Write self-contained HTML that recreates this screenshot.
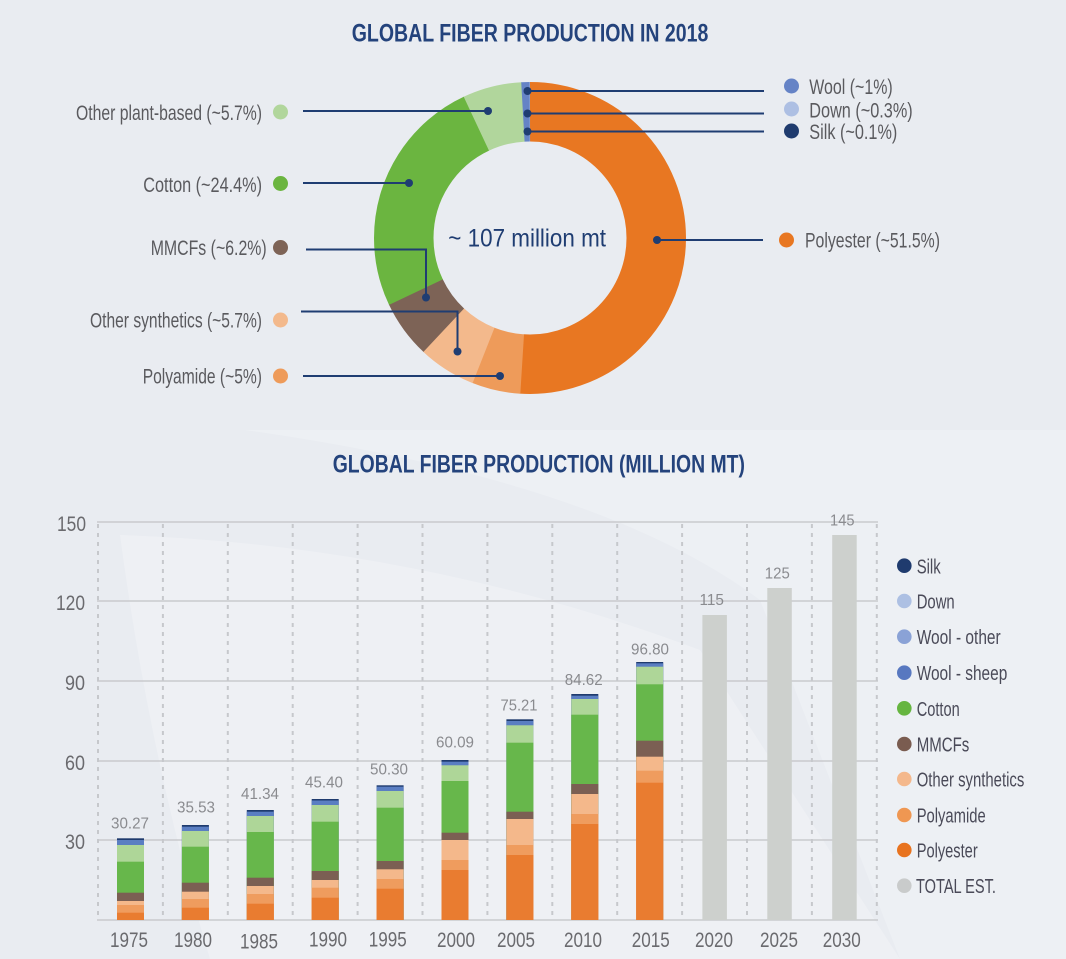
<!DOCTYPE html>
<html>
<head>
<meta charset="utf-8">
<style>
html,body{margin:0;padding:0;background:#e9ecf1;}
svg{display:block;}
text{font-family:"Liberation Sans Narrow","Liberation Sans",sans-serif;}
</style>
</head>
<body>
<svg width="1066" height="959" viewBox="0 0 1066 959" xmlns="http://www.w3.org/2000/svg">
<rect x="0" y="0" width="1066" height="959" fill="#e9ecf1"/>
<!-- subtle background shapes -->
<path d="M245,430 L1066,430 L1066,959 L900,959 L760,600 Q600,480 245,430 Z" fill="#edf0f4"/>
<path d="M120,535 Q420,545 700,650 L900,959 L210,959 Q150,760 120,535 Z" fill="#eef0f4"/>

<!-- Title 1 -->
<text x="351.7" y="41.7" font-size="25" font-weight="bold" fill="#24437c" textLength="356.7" lengthAdjust="spacingAndGlyphs">GLOBAL FIBER PRODUCTION IN 2018</text>

<!-- Donut -->
<g transform="rotate(-90 530 238)" fill="none" stroke-width="59.5">
<circle cx="530" cy="238" r="126.25" stroke="#e87722" stroke-dasharray="404.8 793.25" stroke-dashoffset="0"/>
<circle cx="530" cy="238" r="126.25" stroke="#ee9b5a" stroke-dasharray="40.1 793.25" stroke-dashoffset="-404.34"/>
<circle cx="530" cy="238" r="126.25" stroke="#f3b98c" stroke-dasharray="47.8 793.25" stroke-dashoffset="-444.0"/>
<circle cx="530" cy="238" r="126.25" stroke="#7d6356" stroke-dasharray="47.8 793.25" stroke-dashoffset="-491.38"/>
<circle cx="530" cy="238" r="126.25" stroke="#6bb540" stroke-dasharray="199.2 793.25" stroke-dashoffset="-538.76"/>
<circle cx="530" cy="238" r="126.25" stroke="#b1d69c" stroke-dasharray="48.7 793.25" stroke-dashoffset="-737.51"/>
<circle cx="530" cy="238" r="126.25" stroke="#6583c6" stroke-dasharray="6.8 793.25" stroke-dashoffset="-785.77"/>
<circle cx="530" cy="238" r="126.25" stroke="#8ea6d8" stroke-dasharray="0.9 793.25" stroke-dashoffset="-792.15"/>
<circle cx="530" cy="238" r="126.25" stroke="#3f5e9e" stroke-dasharray="0.5 793.25" stroke-dashoffset="-792.8"/>
</g>
<text x="448.3" y="246.7" font-size="25" fill="#1f3d72" textLength="157.7" lengthAdjust="spacingAndGlyphs">~ 107 million mt</text>

<!-- leader lines -->
<g stroke="#1f3d72" stroke-width="2" fill="none">
<path d="M303 111 H488"/>
<path d="M303 183 H409"/>
<path d="M306 249.5 H426 V297.5"/>
<path d="M301 311.5 H457.5 V351.5"/>
<path d="M303 376 H500"/>
<path d="M527.5 91 H764"/>
<path d="M527.5 113.5 H764"/>
<path d="M527.5 131.5 H764"/>
<path d="M657 240 H763"/>
</g>
<g fill="#1f3d72">
<circle cx="488" cy="111" r="4"/>
<circle cx="409" cy="183" r="4"/>
<circle cx="426" cy="297.5" r="4"/>
<circle cx="457.5" cy="351.5" r="4"/>
<circle cx="500" cy="376" r="4"/>
<circle cx="527.5" cy="91" r="4"/>
<circle cx="527.5" cy="113.5" r="4"/>
<circle cx="527.5" cy="131.5" r="4"/>
<circle cx="657" cy="240" r="4"/>
</g>

<!-- donut labels left -->
<circle cx="280.5" cy="112" r="7.5" fill="#b1d69c"/>
<circle cx="280.5" cy="183.5" r="7.5" fill="#6bb540"/>
<circle cx="280.5" cy="247.5" r="7.5" fill="#7d6356"/>
<circle cx="280.5" cy="320" r="7.5" fill="#f3b98c"/>
<circle cx="280.5" cy="376" r="7.5" fill="#ee9b5a"/>
<g font-size="21" fill="#5a5a5e">
<text x="76" y="120" textLength="186" lengthAdjust="spacingAndGlyphs">Other plant-based (~5.7%)</text>
<text x="143.3" y="192" textLength="118.7" lengthAdjust="spacingAndGlyphs">Cotton (~24.4%)</text>
<text x="150.7" y="255" textLength="116" lengthAdjust="spacingAndGlyphs">MMCFs (~6.2%)</text>
<text x="90" y="327.3" textLength="172" lengthAdjust="spacingAndGlyphs">Other synthetics (~5.7%)</text>
<text x="142.7" y="383.5" textLength="119.3" lengthAdjust="spacingAndGlyphs">Polyamide (~5%)</text>
<text x="809.3" y="94" textLength="83.4" lengthAdjust="spacingAndGlyphs">Wool (~1%)</text>
<text x="809.3" y="117.3" textLength="103.4" lengthAdjust="spacingAndGlyphs">Down (~0.3%)</text>
<text x="809.3" y="139" textLength="88" lengthAdjust="spacingAndGlyphs">Silk (~0.1%)</text>
<text x="805" y="247.3" textLength="135" lengthAdjust="spacingAndGlyphs">Polyester (~51.5%)</text>
</g>
<!-- donut labels right dots -->
<circle cx="791.5" cy="86" r="7.5" fill="#6583c6"/>
<circle cx="791.5" cy="109" r="7.5" fill="#adbfe3"/>
<circle cx="791.5" cy="131" r="7.5" fill="#1f3b6e"/>
<circle cx="786.5" cy="240" r="7.5" fill="#e87722"/>

<!-- Title 2 -->
<text x="332.7" y="472.3" font-size="25" font-weight="bold" fill="#24437c" textLength="412.3" lengthAdjust="spacingAndGlyphs">GLOBAL FIBER PRODUCTION (MILLION MT)</text>

<!-- grid -->
<g stroke="#c9cacd" stroke-width="1.6">
<line x1="97" y1="522" x2="878" y2="522"/>
<line x1="97" y1="601" x2="878" y2="601"/>
<line x1="97" y1="681" x2="878" y2="681"/>
<line x1="97" y1="761" x2="878" y2="761"/>
<line x1="97" y1="840" x2="878" y2="840"/>
<line x1="97" y1="920" x2="878" y2="920"/>
</g>
<g stroke="#c6c8cc" stroke-width="2" stroke-dasharray="4 5">
<line x1="98" y1="524" x2="98" y2="920"/>
<line x1="162.9" y1="524" x2="162.9" y2="920"/>
<line x1="227.8" y1="524" x2="227.8" y2="920"/>
<line x1="292.7" y1="524" x2="292.7" y2="920"/>
<line x1="357.6" y1="524" x2="357.6" y2="920"/>
<line x1="422.5" y1="524" x2="422.5" y2="920"/>
<line x1="487.4" y1="524" x2="487.4" y2="920"/>
<line x1="552.3" y1="524" x2="552.3" y2="920"/>
<line x1="617.2" y1="524" x2="617.2" y2="920"/>
<line x1="682.1" y1="524" x2="682.1" y2="920"/>
<line x1="747" y1="524" x2="747" y2="920"/>
<line x1="811.9" y1="524" x2="811.9" y2="920"/>
<line x1="876.8" y1="524" x2="876.8" y2="920"/>
</g>

<!-- y labels -->
<g font-size="21" fill="#6a6a6e" text-anchor="end">
<text x="86" y="531" textLength="29" lengthAdjust="spacingAndGlyphs">150</text>
<text x="85" y="610" textLength="29" lengthAdjust="spacingAndGlyphs">120</text>
<text x="85" y="690" textLength="20" lengthAdjust="spacingAndGlyphs">90</text>
<text x="85" y="770" textLength="20" lengthAdjust="spacingAndGlyphs">60</text>
<text x="85" y="849" textLength="20" lengthAdjust="spacingAndGlyphs">30</text>
</g>

<!-- stacked bars: silk, wool, plant, cotton, mmcf, othersyn, polyamide, polyester -->
<g>
<!-- 1975 -->
<rect x="117" y="838.3" width="27" height="81.7" fill="#1f3b6e"/>
<rect x="117" y="840" width="27" height="80" fill="#5a7ec2"/>
<rect x="117" y="845" width="27" height="75" fill="#aed698"/>
<rect x="117" y="861.7" width="27" height="58.3" fill="#67b74b"/>
<rect x="117" y="892.7" width="27" height="27.3" fill="#7b5f53"/>
<rect x="117" y="901" width="27" height="19" fill="#f4b88b"/>
<rect x="117" y="905" width="27" height="15" fill="#ef9c5e"/>
<rect x="117" y="912.7" width="27" height="7.3" fill="#e97c30"/>
<!-- 1980 -->
<rect x="181.9" y="825" width="27" height="95" fill="#1f3b6e"/>
<rect x="181.9" y="826.7" width="27" height="93.3" fill="#5a7ec2"/>
<rect x="181.9" y="831" width="27" height="89" fill="#aed698"/>
<rect x="181.9" y="846.7" width="27" height="73.3" fill="#67b74b"/>
<rect x="181.9" y="882.7" width="27" height="37.3" fill="#7b5f53"/>
<rect x="181.9" y="891.7" width="27" height="28.3" fill="#f4b88b"/>
<rect x="181.9" y="899" width="27" height="21" fill="#ef9c5e"/>
<rect x="181.9" y="907.7" width="27" height="12.3" fill="#e97c30"/>
<!-- 1985 -->
<rect x="246.8" y="810" width="27" height="110" fill="#1f3b6e"/>
<rect x="246.8" y="811.7" width="27" height="108.3" fill="#5a7ec2"/>
<rect x="246.8" y="816" width="27" height="104" fill="#aed698"/>
<rect x="246.8" y="832" width="27" height="88" fill="#67b74b"/>
<rect x="246.8" y="877.7" width="27" height="42.3" fill="#7b5f53"/>
<rect x="246.8" y="886" width="27" height="34" fill="#f4b88b"/>
<rect x="246.8" y="894" width="27" height="26" fill="#ef9c5e"/>
<rect x="246.8" y="903.7" width="27" height="16.3" fill="#e97c30"/>
<!-- 1990 -->
<rect x="311.7" y="799" width="27" height="121" fill="#1f3b6e"/>
<rect x="311.7" y="800.5" width="27" height="119.5" fill="#5a7ec2"/>
<rect x="311.7" y="805" width="27" height="115" fill="#aed698"/>
<rect x="311.7" y="821.7" width="27" height="98.3" fill="#67b74b"/>
<rect x="311.7" y="871" width="27" height="49" fill="#7b5f53"/>
<rect x="311.7" y="880" width="27" height="40" fill="#f4b88b"/>
<rect x="311.7" y="887.7" width="27" height="32.3" fill="#ef9c5e"/>
<rect x="311.7" y="897.7" width="27" height="22.3" fill="#e97c30"/>
<!-- 1995 -->
<rect x="376.6" y="785.3" width="27" height="134.7" fill="#1f3b6e"/>
<rect x="376.6" y="786.7" width="27" height="133.3" fill="#5a7ec2"/>
<rect x="376.6" y="791" width="27" height="129" fill="#aed698"/>
<rect x="376.6" y="807.7" width="27" height="112.3" fill="#67b74b"/>
<rect x="376.6" y="861" width="27" height="59" fill="#7b5f53"/>
<rect x="376.6" y="869.3" width="27" height="50.7" fill="#f4b88b"/>
<rect x="376.6" y="879" width="27" height="41" fill="#ef9c5e"/>
<rect x="376.6" y="888.7" width="27" height="31.3" fill="#e97c30"/>
<!-- 2000 -->
<rect x="441.5" y="760" width="27" height="160" fill="#1f3b6e"/>
<rect x="441.5" y="761.7" width="27" height="158.3" fill="#5a7ec2"/>
<rect x="441.5" y="765.3" width="27" height="154.7" fill="#aed698"/>
<rect x="441.5" y="781" width="27" height="139" fill="#67b74b"/>
<rect x="441.5" y="832.7" width="27" height="87.3" fill="#7b5f53"/>
<rect x="441.5" y="840" width="27" height="80" fill="#f4b88b"/>
<rect x="441.5" y="860" width="27" height="60" fill="#ef9c5e"/>
<rect x="441.5" y="870" width="27" height="50" fill="#e97c30"/>
<!-- 2005 -->
<rect x="506.4" y="719.3" width="27" height="200.7" fill="#1f3b6e"/>
<rect x="506.4" y="721" width="27" height="199" fill="#5a7ec2"/>
<rect x="506.4" y="725.3" width="27" height="194.7" fill="#aed698"/>
<rect x="506.4" y="742.7" width="27" height="177.3" fill="#67b74b"/>
<rect x="506.4" y="811.7" width="27" height="108.3" fill="#7b5f53"/>
<rect x="506.4" y="819" width="27" height="101" fill="#f4b88b"/>
<rect x="506.4" y="845" width="27" height="75" fill="#ef9c5e"/>
<rect x="506.4" y="855" width="27" height="65" fill="#e97c30"/>
<!-- 2010 -->
<rect x="571.3" y="694" width="27" height="226" fill="#1f3b6e"/>
<rect x="571.3" y="695.7" width="27" height="224.3" fill="#5a7ec2"/>
<rect x="571.3" y="699" width="27" height="221" fill="#aed698"/>
<rect x="571.3" y="714.7" width="27" height="205.3" fill="#67b74b"/>
<rect x="571.3" y="784" width="27" height="136" fill="#7b5f53"/>
<rect x="571.3" y="794" width="27" height="126" fill="#f4b88b"/>
<rect x="571.3" y="814" width="27" height="106" fill="#ef9c5e"/>
<rect x="571.3" y="824" width="27" height="96" fill="#e97c30"/>
<!-- 2015 -->
<rect x="636.2" y="662" width="27" height="258" fill="#1f3b6e"/>
<rect x="636.2" y="663.3" width="27" height="256.7" fill="#5a7ec2"/>
<rect x="636.2" y="666.7" width="27" height="253.3" fill="#aed698"/>
<rect x="636.2" y="684.3" width="27" height="235.7" fill="#67b74b"/>
<rect x="636.2" y="740.7" width="27" height="179.3" fill="#7b5f53"/>
<rect x="636.2" y="756.7" width="27" height="163.3" fill="#f4b88b"/>
<rect x="636.2" y="770.7" width="27" height="149.3" fill="#ef9c5e"/>
<rect x="636.2" y="782.7" width="27" height="137.3" fill="#e97c30"/>
<!-- totals -->
<rect x="702.4" y="615" width="24.5" height="305" fill="#cdd0cd"/>
<rect x="767.3" y="588" width="24.5" height="332" fill="#cdd0cd"/>
<rect x="832.2" y="535" width="24.5" height="385" fill="#cdd0cd"/>
</g>

<!-- value labels -->
<g font-size="16" fill="#8a8b8f" text-anchor="middle">
<text x="130" y="828.3" textLength="38" lengthAdjust="spacingAndGlyphs">30.27</text>
<text x="196" y="812.3" textLength="38" lengthAdjust="spacingAndGlyphs">35.53</text>
<text x="260" y="799" textLength="38" lengthAdjust="spacingAndGlyphs">41.34</text>
<text x="324" y="787.3" textLength="38" lengthAdjust="spacingAndGlyphs">45.40</text>
<text x="389" y="774.3" textLength="38" lengthAdjust="spacingAndGlyphs">50.30</text>
<text x="455" y="747.3" textLength="38" lengthAdjust="spacingAndGlyphs">60.09</text>
<text x="519" y="710.7" textLength="37" lengthAdjust="spacingAndGlyphs">75.21</text>
<text x="583.7" y="685" textLength="38" lengthAdjust="spacingAndGlyphs">84.62</text>
<text x="650" y="654.3" textLength="38" lengthAdjust="spacingAndGlyphs">96.80</text>
<text x="711.7" y="605" textLength="24.5" lengthAdjust="spacingAndGlyphs">115</text>
<text x="777.3" y="578.3" textLength="25" lengthAdjust="spacingAndGlyphs">125</text>
<text x="842.3" y="525.7" textLength="24.5" lengthAdjust="spacingAndGlyphs">145</text>
</g>

<!-- x labels -->
<g font-size="21" fill="#6a6a6e" text-anchor="middle">
<text x="129" y="947" textLength="38" lengthAdjust="spacingAndGlyphs">1975</text>
<text x="193" y="947" textLength="38" lengthAdjust="spacingAndGlyphs">1980</text>
<text x="259" y="948.5" textLength="38" lengthAdjust="spacingAndGlyphs">1985</text>
<text x="328" y="946.5" textLength="38" lengthAdjust="spacingAndGlyphs">1990</text>
<text x="387.7" y="946.5" textLength="38" lengthAdjust="spacingAndGlyphs">1995</text>
<text x="456" y="947" textLength="38" lengthAdjust="spacingAndGlyphs">2000</text>
<text x="516" y="947" textLength="38" lengthAdjust="spacingAndGlyphs">2005</text>
<text x="583" y="947" textLength="38" lengthAdjust="spacingAndGlyphs">2010</text>
<text x="650.7" y="947" textLength="38" lengthAdjust="spacingAndGlyphs">2015</text>
<text x="714" y="947" textLength="38" lengthAdjust="spacingAndGlyphs">2020</text>
<text x="779" y="947" textLength="38" lengthAdjust="spacingAndGlyphs">2025</text>
<text x="841.7" y="947" textLength="38" lengthAdjust="spacingAndGlyphs">2030</text>
</g>

<!-- legend -->
<circle cx="904.3" cy="565.7" r="7.3" fill="#1f3b6e"/>
<circle cx="904.3" cy="601" r="7.3" fill="#adc0e3"/>
<circle cx="904.3" cy="636.7" r="7.3" fill="#8aa2d6"/>
<circle cx="904.3" cy="672.7" r="7.3" fill="#5878c0"/>
<circle cx="904.3" cy="708.3" r="7.3" fill="#66b540"/>
<circle cx="904.3" cy="744" r="7.3" fill="#7a5c50"/>
<circle cx="904.3" cy="779" r="7.3" fill="#f4b88c"/>
<circle cx="904.3" cy="815" r="7.3" fill="#ef9752"/>
<circle cx="904.3" cy="850" r="7.3" fill="#e8731f"/>
<circle cx="904.3" cy="885.7" r="7.3" fill="#c9cbcb"/>
<g font-size="20" fill="#4a4a58">
<text x="916.7" y="573.3" textLength="24" lengthAdjust="spacingAndGlyphs">Silk</text>
<text x="916.7" y="608.5" textLength="38" lengthAdjust="spacingAndGlyphs">Down</text>
<text x="916.7" y="644.2" textLength="84" lengthAdjust="spacingAndGlyphs">Wool - other</text>
<text x="916.7" y="680.2" textLength="90.6" lengthAdjust="spacingAndGlyphs">Wool - sheep</text>
<text x="916.7" y="715.8" textLength="43" lengthAdjust="spacingAndGlyphs">Cotton</text>
<text x="916.7" y="751.5" textLength="52.6" lengthAdjust="spacingAndGlyphs">MMCFs</text>
<text x="916.7" y="786.5" textLength="107.6" lengthAdjust="spacingAndGlyphs">Other synthetics</text>
<text x="916.7" y="822.5" textLength="69" lengthAdjust="spacingAndGlyphs">Polyamide</text>
<text x="916.7" y="857.5" textLength="61" lengthAdjust="spacingAndGlyphs">Polyester</text>
<text x="916" y="893.2" textLength="80" lengthAdjust="spacingAndGlyphs">TOTAL EST.</text>
</g>
</svg>
</body>
</html>
